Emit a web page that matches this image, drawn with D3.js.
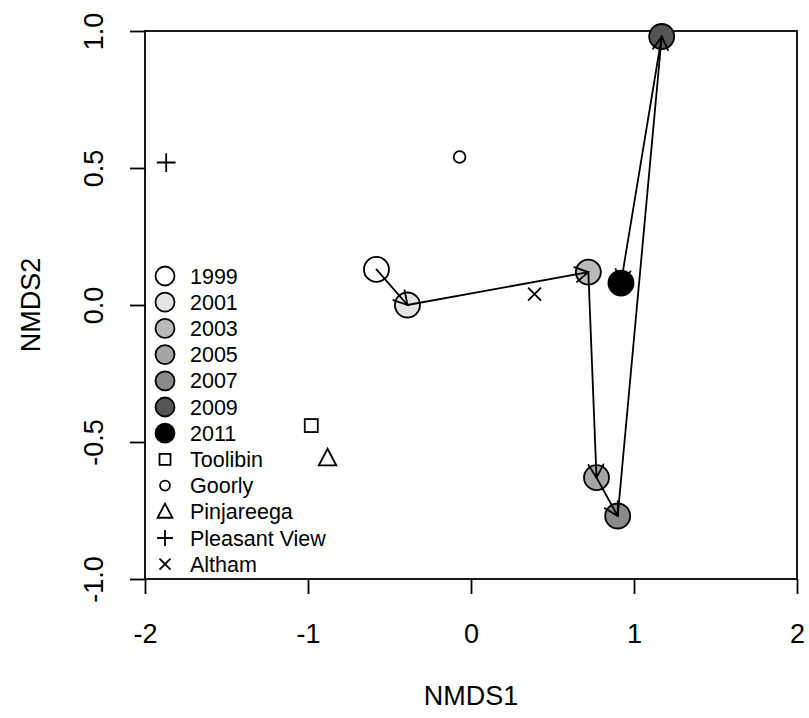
<!DOCTYPE html>
<html>
<head>
<meta charset="utf-8">
<script src="https://cdn.jsdelivr.net/npm/d3@7"></script>
<style>
  html, body { margin: 0; padding: 0; background: #fff; }
  svg { display: block; font-family: "Liberation Sans", Arial, sans-serif; }
</style>
</head>
<body>
<svg id="chart" width="809" height="718"></svg>
<script>
// Yearly centroids of the ordination (NMDS1, NMDS2), joined in time order
const years = ["1999", "2001", "2003", "2005", "2007", "2009", "2011"];
const yearNMDS1 = [-0.58, -0.39, 0.72, 0.77, 0.90, 1.17, 0.92];
const yearNMDS2 = [0.13, 0.00, 0.12, -0.63, -0.77, 0.98, 0.08];
const yearFill = ["#ffffff", "#e4e4e4", "#bababa", "#a5a5a5", "#8a8a8a", "#555555", "#000000"];

// Site scores
const sites = ["Toolibin", "Goorly", "Pinjareega", "Pleasant View", "Altham"];
const siteNMDS1 = [-0.98, -0.07, -0.88, -1.87, 0.39];
const siteNMDS2 = [-0.44, 0.54, -0.56, 0.52, 0.04];
const siteShape = ["square", "circle", "triangle", "plus", "cross"];

// Axes
const xTicks = [-2, -1, 0, 1, 2];
const xTickLabels = ["-2", "-1", "0", "1", "2"];
const yTicks = [-1, -0.5, 0, 0.5, 1];
const yTickLabels = ["-1.0", "-0.5", "0.0", "0.5", "1.0"];
const xTitle = "NMDS1";
const yTitle = "NMDS2";

const svg = d3.select("#chart");
const plotL = 145, plotR = 797, plotT = 31, plotB = 579;
const x = d3.scaleLinear().domain([-2, 2]).range([plotL, plotR]);
const y = d3.scaleLinear().domain([-1, 1]).range([plotB, plotT]);

const ink = "#000";
const axisFont = 27;
const legendFont = 21.5;
const lw = 1.8;

// Plot box
svg.append("rect")
  .attr("x", plotL).attr("y", plotT)
  .attr("width", plotR - plotL).attr("height", plotB - plotT)
  .attr("fill", "none").attr("stroke", ink).attr("stroke-width", lw);

// X axis
const xAxis = svg.append("g")
  .attr("transform", `translate(0,${plotB})`)
  .call(d3.axisBottom(x).tickValues(xTicks).tickSize(15).tickSizeOuter(0)
    .tickFormat((d, i) => xTickLabels[i]));
xAxis.select(".domain").remove();
xAxis.selectAll(".tick line").attr("stroke", ink).attr("stroke-width", lw);
xAxis.selectAll(".tick text")
  .attr("fill", ink).attr("font-size", axisFont)
  .attr("font-family", "Liberation Sans, Arial, sans-serif")
  .attr("dy", null).attr("y", 64);

// Y axis (labels parallel to the axis)
const yAxis = svg.append("g")
  .attr("transform", `translate(${plotL},0)`)
  .call(d3.axisLeft(y).tickValues(yTicks).tickSize(15).tickSizeOuter(0)
    .tickFormat((d, i) => yTickLabels[i]));
yAxis.select(".domain").remove();
yAxis.selectAll(".tick line").attr("stroke", ink).attr("stroke-width", lw);
yAxis.selectAll(".tick text")
  .attr("fill", ink).attr("font-size", axisFont)
  .attr("font-family", "Liberation Sans, Arial, sans-serif")
  .attr("x", null).attr("dy", null)
  .attr("text-anchor", "middle")
  .attr("transform", "translate(-42,0) rotate(-90)");

// Axis titles
svg.append("text")
  .attr("x", (plotL + plotR) / 2).attr("y", 705)
  .attr("text-anchor", "middle").attr("font-size", axisFont).attr("fill", ink)
  .text(xTitle);
svg.append("text")
  .attr("transform", `translate(40,${(plotT + plotB) / 2}) rotate(-90)`)
  .attr("text-anchor", "middle").attr("font-size", axisFont).attr("fill", ink)
  .text(yTitle);

// Symbol drawing for site markers
function drawShape(g, shape, cx, cy, s) {
  const common = sel => sel.attr("fill", "none").attr("stroke", ink).attr("stroke-width", lw);
  if (shape === "square") {
    common(g.append("rect").attr("x", cx - s * 0.5).attr("y", cy - s * 0.5)
      .attr("width", s).attr("height", s));
  } else if (shape === "circle") {
    common(g.append("circle").attr("cx", cx).attr("cy", cy).attr("r", s * 0.45));
  } else if (shape === "triangle") {
    const h = s * 1.2, w = s * 1.35;
    common(g.append("path").attr("d",
      `M${cx},${cy - h * 0.62}L${cx + w / 2},${cy + h * 0.45}L${cx - w / 2},${cy + h * 0.45}Z`));
  } else if (shape === "plus") {
    const a = s * 0.72;
    common(g.append("path").attr("d", `M${cx - a},${cy}H${cx + a}M${cx},${cy - a}V${cy + a}`));
  } else if (shape === "cross") {
    const a = s * 0.5;
    common(g.append("path").attr("d",
      `M${cx - a},${cy - a}L${cx + a},${cy + a}M${cx - a},${cy + a}L${cx + a},${cy - a}`));
  }
}

// Site markers
const siteG = svg.append("g");
sites.forEach((s, i) => drawShape(siteG, siteShape[i], x(siteNMDS1[i]), y(siteNMDS2[i]), 13));

// Year centroids
svg.append("g").selectAll("circle")
  .data(years)
  .join("circle")
  .attr("cx", (d, i) => x(yearNMDS1[i]))
  .attr("cy", (d, i) => y(yearNMDS2[i]))
  .attr("r", 12.5)
  .attr("fill", (d, i) => yearFill[i])
  .attr("stroke", ink).attr("stroke-width", lw);

// Trajectory arrows between consecutive years (open heads)
const arrowG = svg.append("g").attr("stroke", ink).attr("stroke-width", lw)
  .attr("fill", "none").attr("stroke-linecap", "round");
const headLen = 15, headAng = Math.PI / 6;
for (let i = 0; i < years.length - 1; i++) {
  const x0 = x(yearNMDS1[i]), y0 = y(yearNMDS2[i]);
  const x1 = x(yearNMDS1[i + 1]), y1 = y(yearNMDS2[i + 1]);
  const a = Math.atan2(y1 - y0, x1 - x0);
  const b1x = x1 - headLen * Math.cos(a - headAng), b1y = y1 - headLen * Math.sin(a - headAng);
  const b2x = x1 - headLen * Math.cos(a + headAng), b2y = y1 - headLen * Math.sin(a + headAng);
  arrowG.append("path")
    .attr("d", `M${x0},${y0}L${x1},${y1}M${b1x},${b1y}L${x1},${y1}L${b2x},${b2y}`);
}

// Legend
const legendX = 165, legendTextX = 190, legendY0 = 276, legendStep = 26.2;
const legend = svg.append("g");
years.forEach((yr, i) => {
  const cy = legendY0 + i * legendStep;
  legend.append("circle").attr("cx", legendX).attr("cy", cy).attr("r", 9.5)
    .attr("fill", yearFill[i]).attr("stroke", ink).attr("stroke-width", lw);
  legend.append("text").attr("x", legendTextX).attr("y", cy + 7.5)
    .attr("font-size", legendFont).attr("fill", ink).text(yr);
});
sites.forEach((s, i) => {
  const cy = legendY0 + (years.length + i) * legendStep;
  drawShape(legend, siteShape[i], legendX, cy, 11);
  legend.append("text").attr("x", legendTextX).attr("y", cy + 7.5)
    .attr("font-size", legendFont).attr("fill", ink).text(s);
});
</script>
</body>
</html>
